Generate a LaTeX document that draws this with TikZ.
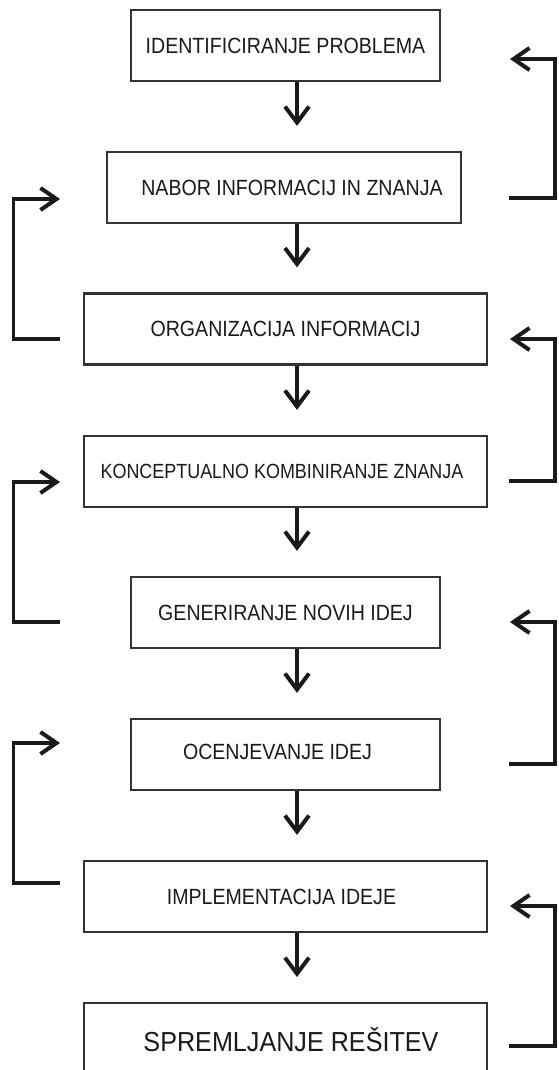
\documentclass[tikz,border=0pt]{standalone}
\usepackage{fontspec}
\setmainfont{Liberation Sans}
\usetikzlibrary{arrows.meta,calc}
\definecolor{ink}{HTML}{1A1A1A}
\definecolor{boxline}{HTML}{333333}
\newcommand{\narrowtxt}[2][0.89]{\scalebox{#1}[1]{#2}}
\begin{document}
\begin{tikzpicture}[x=1pt,y=-1pt,
  stepbox/.style={draw=boxline, line width=2.3pt, fill=white, inner sep=0pt,
    text=ink, font=\fontsize{22}{25}\selectfont, minimum height=71pt},
  narrowbox/.style={stepbox, minimum width=309pt},
  midbox/.style={stepbox, minimum width=354pt},
  widebox/.style={stepbox, minimum width=403pt},
  flow/.style={draw=ink, line width=3.6pt,
    -{Straight Barb[length=16pt,width=24pt,line width=4pt]}},
  fb/.style={draw=ink, line width=3.3pt, line join=miter,
    -{Straight Barb[length=16pt,width=22pt,line width=4pt]}},
]
\fill[white] (0,0) rectangle (558,1070);
\useasboundingbox (0,0) rectangle (558,1070);
\clip (0,0) rectangle (558,1070);

% boxes
\node[narrowbox] (b1) at (285.5,45.5) {\narrowtxt{IDENTIFICIRANJE PROBLEMA}};
\node[midbox]    (b2) at (284,187.5) {\hspace*{16pt}\narrowtxt{NABOR INFORMACIJ IN ZNANJA}};
\node[widebox]   (b3) at (285.5,329) {\narrowtxt{ORGANIZACIJA INFORMACIJ}};
\node[widebox, font=\fontsize{20.5}{23}\selectfont] (b4) at (285.5,471.5) {\hspace*{-7pt}\narrowtxt[0.875]{KONCEPTUALNO KOMBINIRANJE ZNANJA}};
\node[narrowbox] (b5) at (285.5,612.5) {\narrowtxt{GENERIRANJE NOVIH IDEJ}};
\node[narrowbox] (b6) at (285.5,754.5) {\hspace*{-16pt}\narrowtxt{OCENJEVANJE IDEJ}\raisebox{0pt}[0pt][6pt]{}};
\node[widebox]   (b7) at (285.5,896.5) {\hspace*{-8pt}\narrowtxt{IMPLEMENTACIJA IDEJE}};
\node[widebox, minimum height=90pt, anchor=north] (b8) at (285.5,1002) {};
\node[text=ink, font=\fontsize{27.5}{30}\selectfont, inner sep=0pt] (t8) at (291,1040) {\narrowtxt[0.915]{SPREMLJANJE REŠITEV}};

% main flow arrows
\coordinate (ax) at (297,0);
\foreach \a/\b in {b1/b2,b2/b3,b3/b4,b4/b5,b5/b6,b6/b7,b7/b8}{
  \draw[flow] (\a.south -| ax) -- ($(\b.north -| ax)+(0,-25)$);
}

% feedback loops
\coordinate (rx) at (555,0);
\coordinate (lx) at (13.5,0);
\coordinate (r1s) at (509,198);  \coordinate (r1e) at (510,59);
\coordinate (r2s) at (509,481);  \coordinate (r2e) at (510,339);
\coordinate (r3s) at (509,764);  \coordinate (r3e) at (510,622);
\coordinate (r4s) at (509,1046); \coordinate (r4e) at (510,906);
\coordinate (l1s) at (60,339);   \coordinate (l1e) at (60,199);
\coordinate (l2s) at (60,622);   \coordinate (l2e) at (60,482);
\coordinate (l3s) at (60,883);   \coordinate (l3e) at (60,743);
\foreach \s/\e in {r1s/r1e,r2s/r2e,r3s/r3e,r4s/r4e}{
  \draw[fb] (\s) -- (\s -| rx) |- (\e);
}
\foreach \s/\e in {l1s/l1e,l2s/l2e,l3s/l3e}{
  \draw[fb] (\s) -- (\s -| lx) |- (\e);
}
\end{tikzpicture}
\end{document}
